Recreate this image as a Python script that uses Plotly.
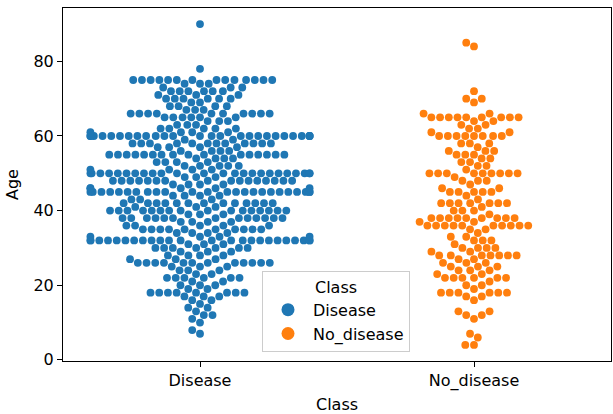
import numpy as np
import plotly.graph_objects as go

# Patient ages per class, stored as (age, number of patients)
classes = ["Disease", "No_disease"]

disease_age = [7, 8, 10, 11, 12, 13, 14, 15, 16, 17, 18, 19, 20, 21, 22, 23, 24, 25,
               26, 27, 28, 29, 30, 31, 32, 33, 34, 35, 36, 37, 38, 39, 40, 41, 42, 43,
               44, 45, 46, 47, 48, 49, 50, 51, 52, 53, 54, 55, 56, 57, 58, 59, 60, 61,
               62, 63, 64, 65, 66, 67, 68, 69, 70, 71, 72, 73, 74, 75, 78, 90]
disease_n = [1, 1, 1, 1, 2, 1, 2, 1, 2, 3, 8, 2, 3, 2, 6, 2, 3, 3,
             12, 3, 4, 3, 7, 3, 24, 4, 4, 10, 5, 4, 13, 3, 16, 3, 13, 3,
             4, 24, 5, 4, 16, 3, 24, 4, 5, 4, 4, 16, 4, 4, 12, 2, 26, 4,
             5, 3, 3, 6, 10, 3, 4, 2, 6, 3, 6, 3, 3, 14, 1, 1]

healthy_age = [4, 6, 7, 11, 12, 13, 16, 17, 18, 19, 20, 21, 22, 23, 24, 25, 26, 27,
               28, 29, 30, 31, 32, 33, 34, 35, 36, 37, 38, 39, 40, 41, 42, 43, 44, 45,
               46, 47, 48, 49, 50, 51, 52, 53, 54, 55, 56, 57, 58, 60, 61, 62, 63, 64,
               65, 66, 69, 70, 72, 84, 85]
healthy_n = [2, 1, 1, 1, 2, 2, 1, 2, 6, 1, 2, 1, 6, 2, 3, 3, 3, 2,
             7, 2, 4, 1, 3, 2, 1, 2, 10, 2, 9, 1, 3, 1, 7, 1, 1, 5,
             2, 1, 3, 1, 9, 1, 2, 2, 2, 3, 3, 1, 3, 8, 2, 2, 2, 2,
             9, 2, 1, 2, 1, 1, 1]

COLORS = ["#1f77b4", "#ff7f0e"]
FONT = "DejaVu Sans"

# Figure geometry (pixels) and axis ranges
W, H = 613, 414
MARGIN = dict(l=63, r=2, t=8, b=53)
X_RANGE = [-0.5, 1.5]
Y_RANGE = [-0.3, 94.3]
plot_w = W - MARGIN["l"] - MARGIN["r"]
plot_h = H - MARGIN["t"] - MARGIN["b"]
PX_X = plot_w / (X_RANGE[1] - X_RANGE[0])
PX_Y = plot_h / (Y_RANGE[1] - Y_RANGE[0])
RADIUS = 4.15      # swarm spacing radius, px
HALF_WIDTH = 0.4   # half of the category band


def swarm_offsets(values):
    """Beeswarm placement in pixel space; returns sorted values and x offsets (data units)."""
    vals = np.sort(np.asarray(values, dtype=float))
    ys = vals * PX_Y
    px, py = [], []
    for y in ys:
        neigh = []
        for xj, yj in zip(reversed(px), reversed(py)):
            if (y - yj) < 2 * RADIUS:
                neigh.append((xj, yj))
            else:
                break
        cands = [0.0]
        left_first = True
        for xj, yj in neigh:
            dy = y - yj
            dx = np.sqrt(max((2 * RADIUS) ** 2 - dy ** 2, 0)) * 1.05
            pair = [xj - dx, xj + dx] if left_first else [xj + dx, xj - dx]
            cands.extend(pair)
            left_first = not left_first
        cands = np.array(cands)
        cands = cands[np.argsort(np.abs(cands), kind="stable")]
        chosen = cands[0]
        if neigh:
            nx = np.array([n[0] for n in neigh])
            ny = np.array([n[1] for n in neigh])
            for c in cands:
                if np.all((nx - c) ** 2 + (ny - y) ** 2 >= (2 * RADIUS) ** 2):
                    chosen = c
                    break
        px.append(chosen)
        py.append(y)
    off = np.clip(np.array(px) / PX_X, -HALF_WIDTH, HALF_WIDTH)
    return vals, off


fig = go.Figure()
groups = [(disease_age, disease_n), (healthy_age, healthy_n)]
for i, (ages, counts) in enumerate(groups):
    values = np.repeat(ages, counts)
    vals, off = swarm_offsets(values)
    fig.add_trace(go.Scatter(
        x=i + off, y=vals, mode="markers", showlegend=False,
        marker=dict(size=7.8, color=COLORS[i], line=dict(width=0)),
        hoverinfo="skip",
    ))
    # legend entry with a larger symbol
    fig.add_trace(go.Scatter(
        x=[None], y=[None], mode="markers", name=classes[i],
        marker=dict(size=13, color=COLORS[i]),
    ))

axis_common = dict(
    showline=True, linecolor="black", linewidth=1, mirror=True,
    ticks="outside", ticklen=5, tickwidth=1, tickcolor="black",
    showgrid=False, zeroline=False,
    tickfont=dict(family=FONT, size=16, color="black"),
    title_font=dict(family=FONT, size=16, color="black"),
)

fig.update_layout(
    width=W, height=H, margin=MARGIN,
    paper_bgcolor="white", plot_bgcolor="white",
    font=dict(family=FONT, size=16, color="black"),
    xaxis=dict(range=X_RANGE, tickvals=[0, 1], ticktext=classes,
               title=dict(text="Class", standoff=8), **axis_common),
    yaxis=dict(range=Y_RANGE, tickvals=[0, 20, 40, 60, 80],
               title=dict(text="Age", standoff=10), **axis_common),
    legend=dict(
        title=dict(text="Class", side="top center",
                   font=dict(family=FONT, size=16, color="black")),
        x=(262 - MARGIN["l"]) / plot_w, y=(361 - 352) / plot_h,
        xanchor="left", yanchor="bottom",
        bgcolor="rgba(255,255,255,0.8)", bordercolor="#cccccc", borderwidth=1,
        font=dict(family=FONT, size=16, color="black"),
        itemsizing="trace", itemwidth=40, tracegroupgap=4,
    ),
)

fig.write_html("out.html")
